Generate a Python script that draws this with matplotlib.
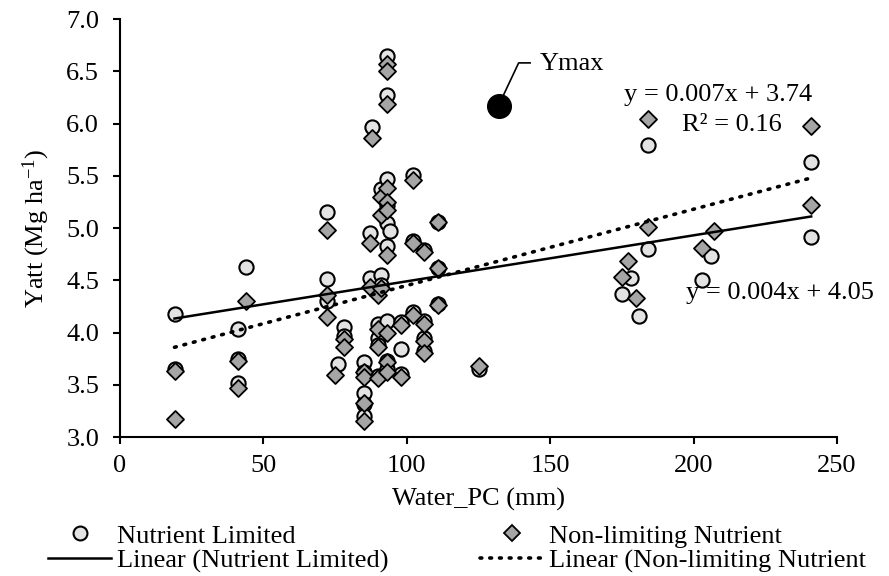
import matplotlib
matplotlib.use("Agg")
import matplotlib.pyplot as plt
from matplotlib.lines import Line2D
import numpy as np

plt.rcParams['font.family'] = ['Liberation Serif', 'DejaVu Serif']
plt.rcParams['mathtext.fontset'] = 'custom'
plt.rcParams['mathtext.rm'] = 'Liberation Serif'
plt.rcParams['mathtext.default'] = 'regular'

# Nutrient Limited (circles)
lim_x = [19, 19, 41, 41, 41, 44, 72, 72, 72, 76, 78, 78,
         85, 85, 85, 85, 85, 87, 87, 88, 90, 90, 90, 90,
         91, 91, 91, 93, 93, 93, 93, 93, 93, 93, 93, 93, 94,
         98, 98, 98, 102, 102, 102, 106, 106, 106, 106,
         111, 111, 111, 125, 175, 178, 181, 184, 184, 203, 206, 241, 241]
lim_y = [4.18, 3.65, 4.03, 3.75, 3.52, 4.63, 5.15, 4.51, 4.30, 3.70, 4.05, 3.97,
         3.72, 3.62, 3.42, 3.32, 3.20, 4.95, 4.52, 5.97, 4.08, 3.95, 3.88, 3.58,
         5.37, 4.55, 4.45, 6.65, 6.27, 5.47, 5.22, 5.05, 4.83, 4.11, 3.73, 3.65, 4.97,
         4.10, 3.84, 3.60, 5.51, 4.88, 4.20, 4.79, 4.11, 3.95, 3.82,
         5.06, 4.62, 4.27, 3.65, 4.37, 4.52, 4.16, 5.79, 4.80, 4.50, 4.73, 5.63, 4.91]

# Non-limiting Nutrient (diamonds)
non_x = [19, 19, 41, 41, 44, 72, 72, 72, 75, 78, 78,
         85, 85, 85, 85, 87, 87, 88, 90, 90, 90, 90,
         91, 91, 91, 93, 93, 93, 93, 93, 93, 93, 93, 93, 93,
         98, 98, 102, 102, 102, 106, 106, 106, 106,
         111, 111, 111, 125, 175, 177, 180, 184, 184, 203, 207, 241, 241]
non_y = [3.63, 3.17, 3.73, 3.47, 4.30, 4.98, 4.36, 4.15, 3.59, 3.94, 3.86,
         3.62, 3.57, 3.33, 3.15, 4.86, 4.44, 5.86, 4.36, 4.03, 3.86, 3.56,
         5.30, 5.12, 4.43, 6.57, 6.50, 6.19, 5.38, 5.25, 5.17, 4.74, 4.00, 3.72, 3.62,
         4.07, 3.57, 5.46, 4.86, 4.17, 4.77, 4.08, 3.92, 3.80,
         5.06, 4.62, 4.26, 3.68, 4.53, 4.68, 4.33, 6.04, 5.01, 4.81, 4.97, 5.98, 5.22]

# trendlines (slope, intercept) as drawn
lim_fit = (0.0044, 4.05)
non_fit = (0.0073, 3.72)
fit_range = [19, 241]

ymax_x, ymax_y = 132, 6.17

eq_non = "y = 0.007x + 3.74"
r2_non = "R² = 0.16"
eq_lim = "y = 0.004x + 4.05"

fs = 19

fig = plt.figure(figsize=(8.89, 5.76), dpi=100)
ax = fig.add_axes([0.135, 0.2413, 0.8065, 0.7257])

ax.scatter(lim_x, lim_y, s=105, marker='o', facecolor='#e3e3e3', edgecolor='black',
           linewidth=1.5, zorder=3)
ax.scatter(non_x, non_y, s=75, marker='D', facecolor='#a5a5a5', edgecolor='black',
           linewidth=1.3, zorder=3)

xr = np.array(fit_range)
ax.plot(xr, lim_fit[0] * xr + lim_fit[1], color='black', lw=1.8, zorder=4)
ax.plot(xr, non_fit[0] * xr + non_fit[1], color='black', lw=2.6, ls=(0, (0.5, 2.2)),
        dash_capstyle='round', zorder=4)

ax.scatter([ymax_x], [ymax_y], s=290, color='black', zorder=5)
ax.plot([ymax_x + 1.5, ymax_x + 7, ymax_x + 11], [ymax_y + 0.09, ymax_y + 0.41, ymax_y + 0.41],
        color='black', lw=1.2, zorder=5)
ax.text(ymax_x + 14.5, ymax_y + 0.40, "Ymax", fontsize=fs, va='center', ha='left')

ax.text(208.5, 6.27, eq_non, fontsize=fs, ha='center', va='center')
ax.text(213.5, 5.99, r2_non, fontsize=fs, ha='center', va='center')
ax.text(230, 4.38, eq_lim, fontsize=fs, ha='center', va='center', zorder=2)

ax.set_xlim(0, 250)
ax.set_ylim(3.0, 7.0)
ax.set_xticks(np.arange(0, 251, 50))
ax.set_yticks(np.arange(3.0, 7.01, 0.5))
ax.set_yticklabels([f"{v:.1f}" for v in np.arange(3.0, 7.01, 0.5)])
for s in ['top', 'right']:
    ax.spines[s].set_visible(False)
for s in ['left', 'bottom']:
    ax.spines[s].set_linewidth(1.5)
ax.tick_params(direction='out', length=5, width=1.5, labelsize=fs)
ax.tick_params(axis='y', pad=10)
ax.tick_params(axis='x', pad=8)

ax.set_xlabel("Water_PC (mm)", fontsize=fs, labelpad=8)
ax.set_ylabel("Yatt (Mg ha$^{-1}$)", fontsize=fs, labelpad=10)

handles = [
    Line2D([], [], ls='none', marker='o', markersize=10, markerfacecolor='#e3e3e3',
           markeredgecolor='black', markeredgewidth=1.5),
    Line2D([], [], color='black', lw=1.8),
    Line2D([], [], ls='none', marker='D', markersize=8, markerfacecolor='#a5a5a5',
           markeredgecolor='black', markeredgewidth=1.3),
    Line2D([], [], color='black', lw=2.6, ls=(0, (0.5, 2.2)), dash_capstyle='round'),
]
labels = ["Nutrient Limited", "Linear (Nutrient Limited)",
          "Non-limiting Nutrient", "Linear (Non-limiting Nutrient"]
fig.legend(handles, labels, ncol=2, loc='upper left', bbox_to_anchor=(0.054, 0.090),
           frameon=False, fontsize=fs, handlelength=2.4, handletextpad=0.23,
           columnspacing=3.45, labelspacing=0.05, borderaxespad=0, borderpad=0)

fig.savefig("out.png", dpi=100)
